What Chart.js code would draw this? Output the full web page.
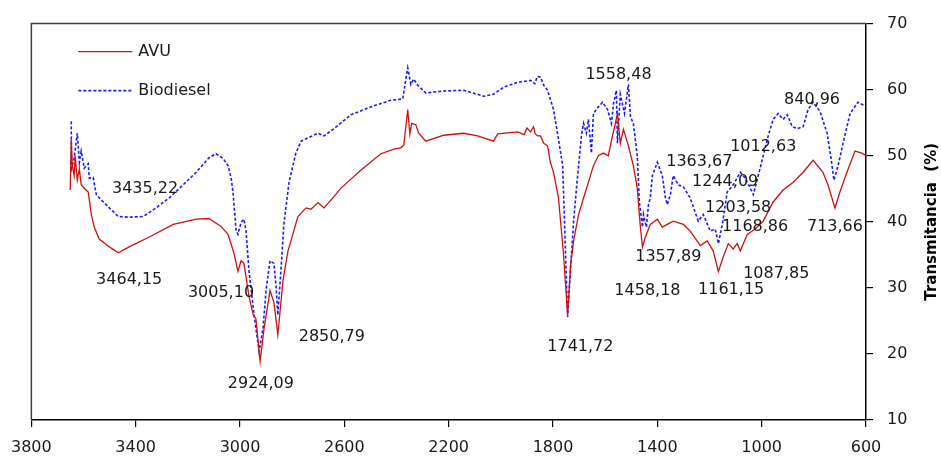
<!DOCTYPE html>
<html>
<head>
<meta charset="utf-8">
<script src="https://cdn.jsdelivr.net/npm/chart.js@4/dist/chart.umd.min.js"></script>
<style>
html,body{margin:0;padding:0;background:#fff;}
#wrap{width:941px;height:457px;position:relative;}
</style>
</head>
<body>
<div id="wrap"><canvas id="c" width="941" height="457"></canvas></div>
<script>
// ---- Data (wavenumber cm-1, transmittance %) ----
const avuWn = [3651,3647,3643,3636,3632,3624,3616,3609,3595,3582,3570,3559,3540,3501,3467,3425,3348,3256,3168,3119,3073,3046,3023,3008,2996,2985,2966,2950,2939,2923,2908,2885,2870,2855,2835,2816,2778,2747,2728,2701,2678,2640,2613,2537,2460,2410,2384,2372,2357,2349,2342,2326,2315,2288,2219,2143,2089,2028,2012,1936,1910,1900,1886,1875,1868,1859,1848,1836,1821,1810,1798,1779,1760,1744,1733,1721,1702,1683,1664,1645,1626,1607,1588,1572,1561,1553,1542,1530,1511,1492,1477,1465,1457,1446,1427,1400,1381,1362,1339,1300,1274,1235,1209,1186,1166,1147,1128,1109,1094,1082,1055,1025,994,956,918,879,841,803,765,746,719,700,673,642,616,600];
const avuT  = [44.8,52.5,48.5,47.0,50.0,46.3,48.0,45.6,45.0,44.5,41.1,39.2,37.4,36.2,35.3,36.2,37.7,39.6,40.4,40.5,39.3,38.1,35.2,32.5,34.1,33.7,28.8,26.0,25.3,18.9,23.8,29.6,27.8,22.9,31.2,35.6,40.8,42.1,41.9,42.9,42.1,43.8,45.1,47.8,50.3,51.0,51.2,51.6,57.0,53.3,54.9,54.7,53.4,52.2,53.1,53.4,53.0,52.2,53.3,53.6,53.2,54.2,53.6,54.4,53.3,53.0,53.0,51.9,51.5,49.0,47.5,43.6,35.2,25.9,33.3,37.1,41.1,43.6,46.0,48.5,50.0,50.4,50.0,53.0,54.9,56.4,51.9,54.0,51.5,48.5,45.1,39.2,36.2,37.7,39.6,40.4,39.2,39.6,40.1,39.6,38.6,36.4,37.1,35.6,32.5,34.7,36.7,35.9,36.7,35.6,38.1,38.9,40.1,43.0,44.8,46.0,47.5,49.3,47.5,45.6,42.1,44.5,47.5,50.7,50.4,50.0];

const bioWn = [3647,3646,3636,3624,3616,3609,3597,3582,3578,3563,3551,3524,3501,3467,3425,3371,3322,3272,3218,3168,3119,3092,3065,3046,3034,3027,3015,3008,2996,2985,2977,2966,2946,2927,2912,2900,2885,2870,2862,2855,2843,2832,2812,2786,2766,2740,2701,2678,2640,2575,2498,2422,2376,2365,2357,2345,2334,2319,2288,2219,2143,2089,2066,2028,1989,1936,1886,1870,1860,1848,1836,1821,1798,1779,1763,1756,1748,1744,1733,1721,1710,1702,1691,1683,1672,1664,1653,1645,1626,1610,1591,1576,1568,1557,1553,1542,1526,1511,1503,1492,1477,1469,1457,1453,1442,1434,1427,1419,1400,1381,1369,1362,1350,1339,1320,1300,1274,1243,1224,1197,1178,1166,1151,1132,1109,1082,1063,1044,1032,1013,994,975,956,937,918,902,883,864,841,822,803,776,749,734,723,707,688,661,631,612,600];
const bioT  = [55.2,48.1,49.6,53.4,49.0,50.7,48.1,48.8,46.6,46.7,44.1,43.0,42.1,40.8,40.7,40.8,42.1,43.6,45.6,47.5,49.7,50.3,49.6,48.5,46.6,44.5,38.6,38.1,39.9,40.4,38.6,32.7,25.9,20.4,23.8,29.7,34.1,33.7,30.3,25.9,32.7,39.6,46.0,50.4,52.2,52.7,53.4,53.0,54.1,56.2,57.4,58.4,58.6,61.4,63.3,60.8,61.6,60.7,59.5,59.8,59.9,59.3,59.0,59.3,60.4,61.1,61.4,60.9,62.0,61.9,60.7,59.9,57.0,52.5,48.5,40.1,30.3,25.6,32.7,40.1,45.1,48.5,53.0,54.9,53.4,55.5,50.4,56.4,57.4,58.1,57.0,54.9,57.9,59.9,51.9,59.3,56.4,60.8,55.9,54.9,50.0,43.0,39.2,41.1,39.2,42.6,43.6,47.0,49.0,47.0,43.6,42.6,44.1,47.0,45.6,45.3,43.6,40.1,41.1,38.6,38.9,36.7,39.6,44.5,45.6,47.5,46.6,45.1,44.1,47.0,50.0,53.0,55.5,56.4,55.5,56.2,54.4,54.1,54.4,57.0,58.1,56.7,53.4,49.6,46.3,48.5,51.9,56.4,58.1,57.7,57.4];

const xTicks = [3800,3400,3000,2600,2200,1800,1400,1000,600];
const yTicks = [10,20,30,40,50,60,70];

const peakLabels = ["3435,22","3464,15","3005,10","2924,09","2850,79","1741,72","1558,48","1363,67","1244,09","1012,63","840,96","1203,58","1168,86","713,66","1357,89","1458,18","1161,15","1087,85"];
const peakLabelWn = [3364,3425,3073,2920,2648,1695,1549,1239,1140,994,807,1090,1025,719,1358,1438,1117,944];
const peakLabelT  = [45.0,31.2,29.3,15.5,22.6,21.1,62.3,49.1,46.0,51.3,58.4,42.1,39.2,39.2,34.7,29.6,29.7,32.1];

const seriesNames = ["AVU","Biodiesel"];
const yTitle = "Transmitancia  (%)";

const toPts = (xs, ys) => xs.map((x, i) => ({x: x, y: ys[i]}));

const FONT = "'DejaVu Sans', sans-serif";

const decor = {
  id: 'decor',
  afterDraw(chart) {
    const ctx = chart.ctx;
    const a = chart.chartArea;
    const xs = chart.scales.x, ys = chart.scales.y;
    ctx.save();
    // frame top & left
    ctx.strokeStyle = '#404040';
    ctx.lineWidth = 1.5;
    ctx.beginPath();
    ctx.moveTo(a.left, a.bottom);
    ctx.lineTo(a.left, a.top);
    ctx.lineTo(a.right, a.top);
    ctx.stroke();
    // peak labels
    ctx.fillStyle = '#1a1a1a';
    ctx.font = "16px " + FONT;
    ctx.textAlign = 'center';
    ctx.textBaseline = 'middle';
    peakLabels.forEach((t, i) => {
      ctx.fillText(t, xs.getPixelForValue(peakLabelWn[i]), ys.getPixelForValue(peakLabelT[i]));
    });
    // legend
    const ds = chart.data.datasets;
    const lx = a.left + 47, ly = [a.top + 28, a.top + 67];
    ds.forEach((d, i) => {
      ctx.strokeStyle = d.borderColor;
      ctx.lineWidth = d.borderWidth;
      ctx.setLineDash(d.borderDash || []);
      ctx.beginPath();
      ctx.moveTo(lx, ly[i]);
      ctx.lineTo(lx + 54, ly[i]);
      ctx.stroke();
      ctx.setLineDash([]);
      ctx.fillStyle = '#1a1a1a';
      ctx.textAlign = 'left';
      ctx.font = "16px " + FONT;
      ctx.fillText(d.label, lx + 60, ly[i]);
    });
    // y title (reads bottom to top)
    ctx.translate(932, (a.top + a.bottom) / 2);
    ctx.rotate(-Math.PI / 2);
    ctx.font = "bold 15px " + FONT;
    ctx.textAlign = 'center';
    ctx.fillStyle = '#000';
    ctx.fillText(yTitle, 0, 0);
    ctx.restore();
  }
};

new Chart(document.getElementById('c'), {
  type: 'line',
  data: {
    datasets: [
      { label: seriesNames[0], data: toPts(avuWn, avuT), borderColor: '#cc1111', borderWidth: 1.3, pointRadius: 0, tension: 0, fill: false },
      { label: seriesNames[1], data: toPts(bioWn, bioT), borderColor: '#1a1aff', borderWidth: 1.6, borderDash: [3, 2], pointRadius: 0, tension: 0, fill: false }
    ]
  },
  options: {
    responsive: false,
    animation: false,
    devicePixelRatio: 1,
    layout: { padding: { left: 30, top: 15, right: 0, bottom: 0 } },
    plugins: { legend: { display: false }, tooltip: { enabled: false } },
    scales: {
      x: {
        type: 'linear', reverse: true, min: 600, max: 3800,
        afterBuildTicks: s => { s.ticks = xTicks.map(v => ({ value: v })); },
        afterFit: s => { s.height = 37; },
        grid: { drawOnChartArea: false, drawTicks: true, tickLength: 7, color: '#000', lineWidth: 1.2 },
        border: { color: '#000', width: 1.5 },
        ticks: { color: '#1a1a1a', font: { family: FONT, size: 16 }, padding: 11, maxRotation: 0, autoSkip: false, callback: v => String(v) }
      },
      y: {
        position: 'right', min: 10, max: 70,
        afterBuildTicks: s => { s.ticks = yTicks.map(v => ({ value: v })); },
        afterFit: s => { s.width = 75; },
        grid: { drawOnChartArea: false, drawTicks: true, tickLength: 7, color: '#000', lineWidth: 1.2 },
        border: { color: '#000', width: 1.5 },
        ticks: { color: '#1a1a1a', font: { family: FONT, size: 16 }, padding: 14, autoSkip: false, callback: v => String(v) }
      }
    }
  },
  plugins: [decor]
});
</script>
</body>
</html>
